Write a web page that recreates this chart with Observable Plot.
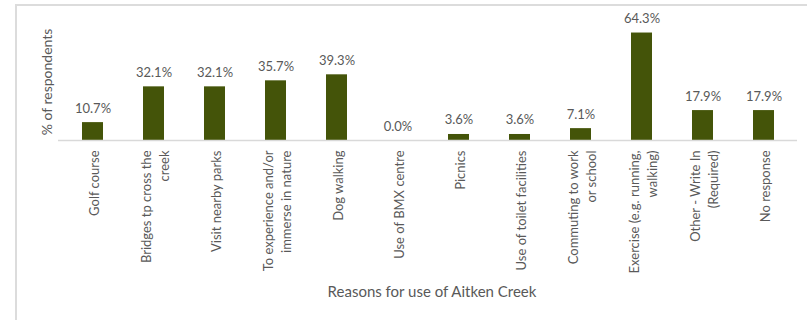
<!DOCTYPE html>
<html>
<head>
<meta charset="utf-8">
<script src="https://cdn.jsdelivr.net/npm/d3@7"></script>
<script src="https://cdn.jsdelivr.net/npm/@observablehq/plot@0.6"></script>
<style>
  html, body { margin: 0; padding: 0; background: #fff; }
  #wrap { position: relative; width: 807px; height: 320px; overflow: hidden; }
  #frame { position: absolute; left: 15px; top: 4px; width: 800px; height: 330px;
           border-top: 2px solid #dcdcdc; border-left: 2px solid #dcdcdc; box-sizing: border-box; pointer-events: none; }
  #chart { position: absolute; left: 0; top: 0; }
</style>
</head>
<body>
<div id="wrap"><div id="chart"></div><div id="frame"></div></div>
<script>
const categories = [
  "Golf course", "Bridges tp cross the creek", "Visit nearby parks",
  "To experience and/or immerse in nature", "Dog walking", "Use of BMX centre",
  "Picnics", "Use of toilet facilities", "Commuting to work or school",
  "Exercise (e.g. running, walking)", "Other - Write In (Required)", "No response"
];
const values = [10.7, 32.1, 32.1, 35.7, 39.3, 0.0, 3.6, 3.6, 7.1, 64.3, 17.9, 17.9];
const tickLabels = [
  "Golf course", "Bridges tp cross the\ncreek", "Visit nearby parks",
  "To experience and/or\nimmerse in nature", "Dog walking", "Use of BMX centre",
  "Picnics", "Use of toilet facilities", "Commuting to work\nor school",
  "Exercise (e.g. running,\nwalking)", "Other - Write In\n(Required)", "No response"
];
const yTitle = "% of respondents";
const xTitle = "Reasons for use of Aitken Creek";

const data = categories.map((c, i) => ({category: c, value: values[i], label: tickLabels[i]}));
const font = "Lato, 'Open Sans', sans-serif";
const grey = "#595959";

const chart = Plot.plot({
  width: 807,
  height: 320,
  marginLeft: 58,
  marginRight: 10,
  marginTop: 23,
  marginBottom: 180,
  style: {fontFamily: font, background: "transparent"},
  x: {domain: categories, paddingInner: 0.66, paddingOuter: 0.33, axis: null},
  y: {domain: [0, 70], axis: null},
  marks: [
    Plot.barY(data, {x: "category", y: "value", fill: "#445409"}),
    Plot.ruleY([0], {stroke: "#d9d9d9", strokeWidth: 1.3}),
    Plot.text(data, {
      x: "category", y: "value", text: d => d.value.toFixed(1) + "%",
      lineAnchor: "bottom", dy: -10, fontSize: 13, fill: grey, fontFamily: font
    }),
    Plot.text(data, {
      x: "category", text: "label", frameAnchor: "bottom", dy: 10,
      rotate: -90, textAnchor: "end", lineAnchor: "middle", lineHeight: 1.45,
      fontSize: 13, fill: grey, fontFamily: font
    }),
    Plot.text([yTitle], {
      text: d => d, frameAnchor: "left", dx: -11, rotate: -90,
      textAnchor: "middle", lineAnchor: "middle",
      fontSize: 14, fill: grey, fontFamily: font
    }),
    Plot.text([xTitle], {
      text: d => d, frameAnchor: "bottom", dy: 156, dx: 4,
      fontSize: 15, fill: grey, fontFamily: font
    })
  ]
});
document.getElementById("chart").appendChild(chart);
</script>
</body>
</html>
